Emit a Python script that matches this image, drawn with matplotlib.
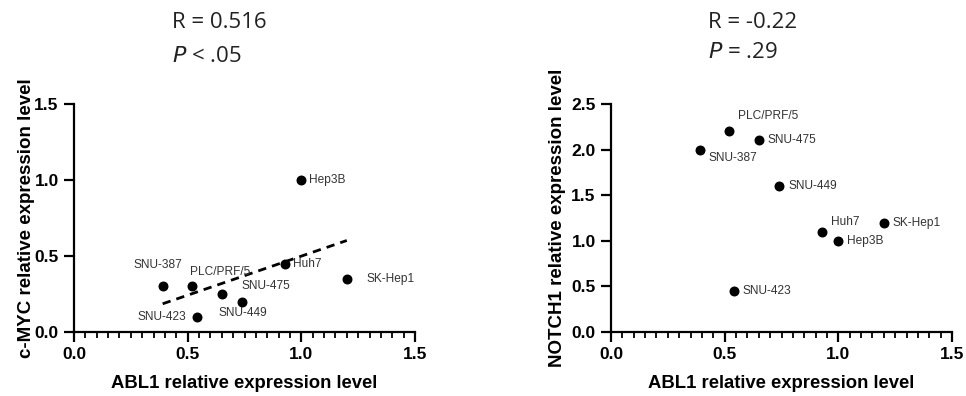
import numpy as np
import matplotlib
matplotlib.use("Agg")
import matplotlib.pyplot as plt
from matplotlib.ticker import MultipleLocator, FormatStrFormatter

cells = ["SNU-387", "PLC/PRF/5", "SNU-475", "SNU-449", "SNU-423", "Huh7", "Hep3B", "SK-Hep1"]
abl1 = [0.39, 0.52, 0.65, 0.74, 0.54, 0.93, 1.00, 1.20]
cmyc = [0.30, 0.30, 0.25, 0.20, 0.10, 0.45, 1.00, 0.35]
notch1 = [2.00, 2.20, 2.10, 1.60, 0.45, 1.10, 1.00, 1.20]

PX = 0.72  # points per pixel at dpi 100
# label offsets in pixels (dx, dy up, ha)
off_left = {
    "SNU-387": (-5, 21, "center"), "PLC/PRF/5": (-2, 14, "left"), "SNU-475": (20, 8, "left"),
    "SNU-449": (1, -11, "center"), "SNU-423": (-11, 0, "right"), "Huh7": (8, 0, "left"),
    "Hep3B": (8, 0, "left"), "SK-Hep1": (20, 0, "left"),
}
off_right = {
    "SNU-387": (9, -8, "left"), "PLC/PRF/5": (9, 15, "left"), "SNU-475": (9, 0, "left"),
    "SNU-449": (9, 0, "left"), "SNU-423": (9, 0, "left"), "Huh7": (9, 10, "left"),
    "Hep3B": (9, 0, "left"), "SK-Hep1": (9, 0, "left"),
}

plt.rcParams["font.family"] = ["Liberation Sans", "DejaVu Sans"]
fig = plt.figure(figsize=(9.66, 3.96), dpi=100)
ax1 = fig.add_axes([74 / 966, 64 / 396, 341 / 966, 228 / 396])
ax2 = fig.add_axes([611 / 966, 64 / 396, 341 / 966, 228 / 396])


def style(ax, ymax, ylabel, ylab_x):
    ax.set_xlim(0, 1.5)
    ax.set_ylim(0, ymax)
    for s in ["top", "right"]:
        ax.spines[s].set_visible(False)
    for s in ["left", "bottom"]:
        ax.spines[s].set_linewidth(1.6)
    ax.xaxis.set_major_locator(MultipleLocator(0.5))
    ax.xaxis.set_minor_locator(MultipleLocator(0.05))
    ax.yaxis.set_major_locator(MultipleLocator(0.5))
    ax.tick_params(axis="both", which="major", direction="out", length=7, width=1.6,
                   labelsize=12.5, pad=4)
    ax.tick_params(axis="x", which="minor", direction="out", length=4, width=1.3)
    ax.xaxis.set_major_formatter(FormatStrFormatter("%.1f"))
    ax.yaxis.set_major_formatter(FormatStrFormatter("%.1f"))
    for lab in ax.get_xticklabels() + ax.get_yticklabels():
        lab.set_fontweight("bold")
    ax.set_xlabel("ABL1 relative expression level", fontsize=13.3, fontweight="bold")
    ax.set_ylabel(ylabel, fontsize=13.5, fontweight="bold")
    ax.xaxis.set_label_coords(0.5, -0.19)
    ax.yaxis.set_label_coords(ylab_x, 0.5)


def points(ax, ys, offs):
    ax.scatter(abl1, ys, s=38, color="black", zorder=3, clip_on=False)
    for name, x, y in zip(cells, abl1, ys):
        dx, dy, ha = offs[name]
        ax.annotate(name, (x, y), xytext=(dx * PX, dy * PX), textcoords="offset points",
                    ha=ha, va="center", fontsize=8.6, color="#333333")


style(ax1, 1.5, "c-MYC relative expression level", -0.114)
points(ax1, cmyc, off_left)
k, b = np.polyfit(abl1, cmyc, 1)
xs = np.array([min(abl1), max(abl1)])
ax1.plot(xs, k * xs + b, color="black", lw=2, ls=(0, (3, 2.2)), zorder=2)

style(ax2, 2.5, "NOTCH1 relative expression level", -0.132)
points(ax2, notch1, off_right)

tfont = dict(family=["Open Sans", "DejaVu Sans"], fontsize=16, color="#222222")
fig.text(172 / 966, 1 - 22 / 396, "R = 0.516", va="center", ha="left", **tfont)
fig.text(172 / 966, 1 - 57 / 396, r"$\it{P}$ < .05", va="center", ha="left", **tfont)
fig.text(708 / 966, 1 - 22 / 396, "R = -0.22", va="center", ha="left", **tfont)
fig.text(708 / 966, 1 - 53 / 396, r"$\it{P}$ = .29", va="center", ha="left", **tfont)

fig.savefig("out.png", dpi=100)
